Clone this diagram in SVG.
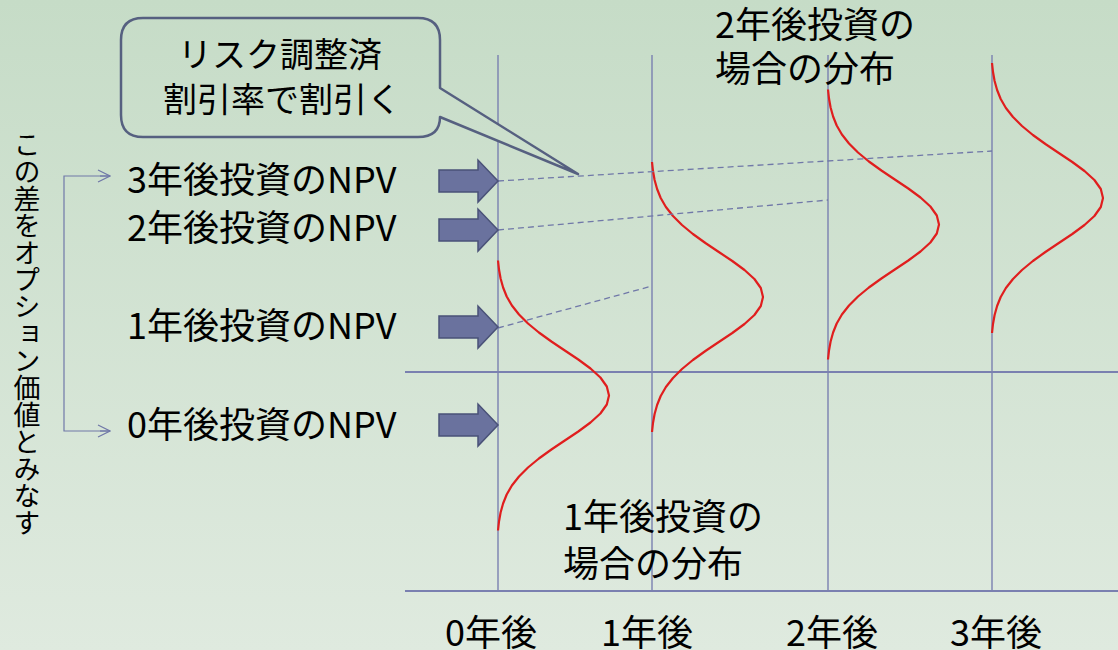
<svg xmlns="http://www.w3.org/2000/svg" xmlns:xlink="http://www.w3.org/1999/xlink" width="1118" height="650" viewBox="0 0 1118 650">
<defs>
<linearGradient id="bg" gradientUnits="userSpaceOnUse" x1="0" y1="0" x2="0" y2="650">
<stop offset="0" stop-color="#c6dcc7"/>
<stop offset="1" stop-color="#dfeadf"/>
</linearGradient>
<polyline id="bell" points="0,-135 1.0,-126 2.6,-117 5.1,-108 8.7,-99 13.9,-90 21.0,-81 30.0,-72 40.9,-63 53.4,-54 66.8,-45 80.3,-36 92.5,-27 102.4,-18 108.8,-9 111,0 108.8,9 102.4,18 92.5,27 80.3,36 66.8,45 53.4,54 40.9,63 30.0,72 21.0,81 13.9,90 8.7,99 5.1,108 2.6,117 1.0,126 0,135"/>
<polygon id="barrow" points="-59,-11 -20,-11 -20,-21 0,0 -20,21 -20,11 -59,11"/>
<marker id="open" markerWidth="14" markerHeight="14" refX="13" refY="7" orient="auto" markerUnits="userSpaceOnUse">
<polyline points="1,1 13,7 1,13" fill="none" stroke="#7078a8" stroke-width="1.2"/>
</marker>
</defs>
<style>
text{font-family:"Noto Sans CJK JP","Noto Sans",sans-serif;fill:#000}
.lbl{font-size:36px}
.call{font-size:34px}
.grid{stroke:#7a80b0;stroke-width:1.4;fill:none}
.axis{stroke:#7a80b0;stroke-width:2;fill:none}
.dash{stroke:#7078a8;stroke-width:1.3;stroke-dasharray:6 4;fill:none}
.curve{stroke:#e01e1e;stroke-width:2.2;fill:none;stroke-linejoin:round}
.arr{fill:#6a729e;stroke:#4a5278;stroke-width:1.5}
.thin{stroke:#7078a8;stroke-width:1.2;fill:none}
</style>
<rect x="0" y="0" width="1118" height="650" fill="url(#bg)"/>

<g id="grid">
<line class="grid" x1="498" y1="55" x2="498" y2="591"/>
<line class="grid" x1="652" y1="55" x2="652" y2="591"/>
<line class="grid" x1="828" y1="55" x2="828" y2="591"/>
<line class="grid" x1="992" y1="55" x2="992" y2="591"/>
<line class="axis" x1="405" y1="372" x2="1118" y2="372"/>
<line class="axis" x1="405" y1="591" x2="1118" y2="591"/>
</g>

<g id="distributions">
<use xlink:href="#bell" class="curve" x="498" y="395.5"/>
<use xlink:href="#bell" class="curve" x="652" y="297"/>
<use xlink:href="#bell" class="curve" x="828" y="224.5"/>
<use xlink:href="#bell" class="curve" x="992" y="198"/>
</g>

<g id="connectors">
<line class="dash" x1="498" y1="181" x2="992" y2="151"/>
<line class="dash" x1="498" y1="230" x2="828" y2="200"/>
<line class="dash" x1="498" y1="328" x2="652" y2="286"/>
<polyline class="thin" points="110,176 64,176 64,431 110,431"/>
<line class="thin" x1="100" y1="176" x2="110" y2="176" marker-end="url(#open)"/>
<line class="thin" x1="100" y1="431" x2="110" y2="431" marker-end="url(#open)"/>
</g>

<g id="callout">
<path d="M143,18 H418 Q440,18 440,40 V88 L578,174 L440,117 Q440,137 418,137 H143 Q121,137 121,115 V40 Q121,18 143,18 Z" fill="url(#bg)" stroke="#566080" stroke-width="2.5" stroke-linejoin="round"/>
<text class="call" x="280" y="67" text-anchor="middle">リスク調整済</text>
<text class="call" x="282" y="112" text-anchor="middle">割引率で割引く</text>
</g>

<g id="npv3"><text class="lbl" x="127" y="193">3年後投資のNPV</text><use xlink:href="#barrow" class="arr" x="498" y="181"/></g>
<g id="npv2"><text class="lbl" x="127" y="241">2年後投資のNPV</text><use xlink:href="#barrow" class="arr" x="498" y="230"/></g>
<g id="npv1"><text class="lbl" x="127" y="339">1年後投資のNPV</text><use xlink:href="#barrow" class="arr" x="498" y="327"/></g>
<g id="npv0"><text class="lbl" x="127" y="438">0年後投資のNPV</text><use xlink:href="#barrow" class="arr" x="498" y="425"/></g>

<g id="option-note">
<text x="27" y="131" writing-mode="vertical-rl" style="font-size:27px">この差をオプション価値とみなす</text>
</g>

<g id="dist2-label">
<text class="lbl" x="715" y="38">2年後投資の</text>
<text class="lbl" x="715" y="82">場合の分布</text>
</g>
<g id="dist1-label">
<text class="lbl" x="563" y="530">1年後投資の</text>
<text class="lbl" x="563" y="577">場合の分布</text>
</g>

<g id="xaxis-labels">
<text class="lbl" x="445" y="646">0年後</text>
<text class="lbl" x="601" y="646">1年後</text>
<text class="lbl" x="786" y="646">2年後</text>
<text class="lbl" x="950" y="646">3年後</text>
</g>
</svg>
